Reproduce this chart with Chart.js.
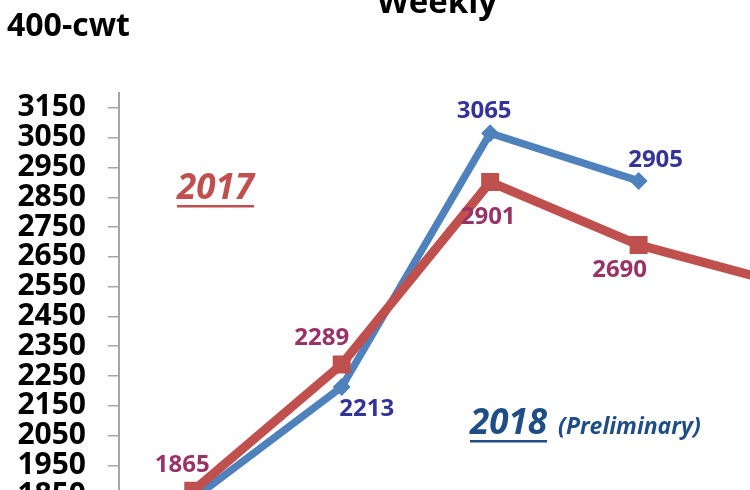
<!DOCTYPE html>
<html>
<head>
<meta charset="utf-8">
<script src="https://cdn.jsdelivr.net/npm/chart.js@4"></script>
<style>
  html, body { margin: 0; padding: 0; background: #fff; overflow: hidden; }
  #wrap { position: absolute; left: 0; top: 0; width: 874px; height: 570px; }
</style>
</head>
<body>
<div id="wrap"><canvas id="chart" width="874" height="570"></canvas></div>
<script>
const weeks = ['Wk 1', 'Wk 2', 'Wk 3', 'Wk 4', 'Wk 5'];
const values2017 = [1865, 2289, 2901, 2690, 2556];
const values2018 = [1838, 2213, 3065, 2905, null];
const yTickValues = [3150, 3050, 2950, 2850, 2750, 2650, 2550, 2450, 2350, 2250, 2150, 2050, 1950, 1850, 1750];

const FONT = '"Open Sans", "Noto Sans", sans-serif';
const RED = '#C0504D';
const BLUE = '#4F81BD';

// label offsets (dx, dy) from each point, per dataset
const labelOffsets = [
    [[-11, -26], [-20, -26], [-2, 35], [-19, 25], [0, 25]],
    [[0, 28], [25, 22], [-6, -22], [17, -21], [0, 0]]
];
const labelColors = ['#993366', '#333399'];

const valueLabels = {
    id: 'valueLabels',
    afterDatasetsDraw(chart) {
        const ctx = chart.ctx;
        ctx.save();
        ctx.font = 'bold 24px ' + FONT;
        ctx.textAlign = 'center';
        ctx.textBaseline = 'middle';
        chart.data.datasets.forEach((ds, i) => {
            const meta = chart.getDatasetMeta(i);
            meta.data.forEach((pt, j) => {
                const v = ds.data[j];
                if (v == null) return;
                const off = labelOffsets[i][j];
                ctx.fillStyle = labelColors[i];
                ctx.fillText(String(v), pt.x + off[0], pt.y + off[1]);
            });
        });
        ctx.restore();
    }
};

function underlined(ctx, text, x, y, color, lineY, thick) {
    ctx.fillStyle = color;
    ctx.fillText(text, x, y);
    const w = ctx.measureText(text).width;
    ctx.fillRect(x, lineY, w, thick);
    return w;
}

const annotations = {
    id: 'annotations',
    afterDraw(chart) {
        const ctx = chart.ctx;
        ctx.save();
        ctx.textBaseline = 'alphabetic';
        ctx.textAlign = 'center';
        ctx.fillStyle = '#000';
        ctx.font = 'bold 33px ' + FONT;
        ctx.fillText('Weekly', 437, 13);

        ctx.textAlign = 'left';
        ctx.font = 'bold 32px ' + FONT;
        ctx.fillText('400-cwt', 7, 36);

        ctx.font = 'italic bold 35px ' + FONT;
        underlined(ctx, '2017', 177, 199, RED, 205, 2.5);

        ctx.font = 'italic bold 35px ' + FONT;
        const w = underlined(ctx, '2018', 470, 434, '#1F4E86', 440, 2.5);
        ctx.font = 'italic bold 23px ' + FONT;
        ctx.fillStyle = '#1F4E86';
        ctx.fillText('(Preliminary)', 470 + w + 11, 434);
        ctx.restore();
    }
};

new Chart(document.getElementById('chart'), {
    type: 'line',
    data: {
        labels: weeks,
        datasets: [{
            label: '2017',
            data: values2017,
            borderColor: RED,
            backgroundColor: RED,
            borderWidth: 9,
            pointStyle: 'rect',
            pointRadius: 12.7,
            pointBorderWidth: 0,
            pointHoverRadius: 12.7,
            tension: 0,
            fill: false
        }, {
            label: '2018 (Preliminary)',
            data: values2018,
            borderColor: BLUE,
            backgroundColor: BLUE,
            borderWidth: 7.5,
            pointStyle: 'rectRot',
            pointRadius: 9,
            pointBorderWidth: 0,
            pointHoverRadius: 9,
            tension: 0,
            fill: false
        }]
    },
    options: {
        responsive: false,
        animation: false,
        events: [],
        layout: { padding: { top: 93, left: 0, right: 10, bottom: 0 } },
        plugins: {
            legend: { display: false },
            title: { display: false },
            tooltip: { enabled: false }
        },
        scales: {
            x: {
                offset: true,
                grid: { display: false },
                border: { color: '#A6A6A6', width: 2 },
                ticks: { font: { family: FONT, size: 20, weight: 'bold' }, color: '#000' },
                afterFit: s => { s.height = 45; }
            },
            y: {
                min: 1750,
                max: 3200,
                afterBuildTicks: s => { s.ticks = yTickValues.map(v => ({ value: v })); },
                afterFit: s => { s.width = 119; },
                border: { color: '#A6A6A6', width: 2 },
                grid: {
                    drawOnChartArea: false,
                    drawTicks: true,
                    tickLength: 11,
                    color: '#A6A6A6',
                    lineWidth: 1.5
                },
                ticks: {
                    autoSkip: false,
                    padding: 22,
                    color: '#000',
                    font: { family: FONT, size: 30, weight: 'bold' },
                    callback: v => String(v)
                }
            }
        }
    },
    plugins: [valueLabels, annotations]
});
</script>
</body>
</html>
